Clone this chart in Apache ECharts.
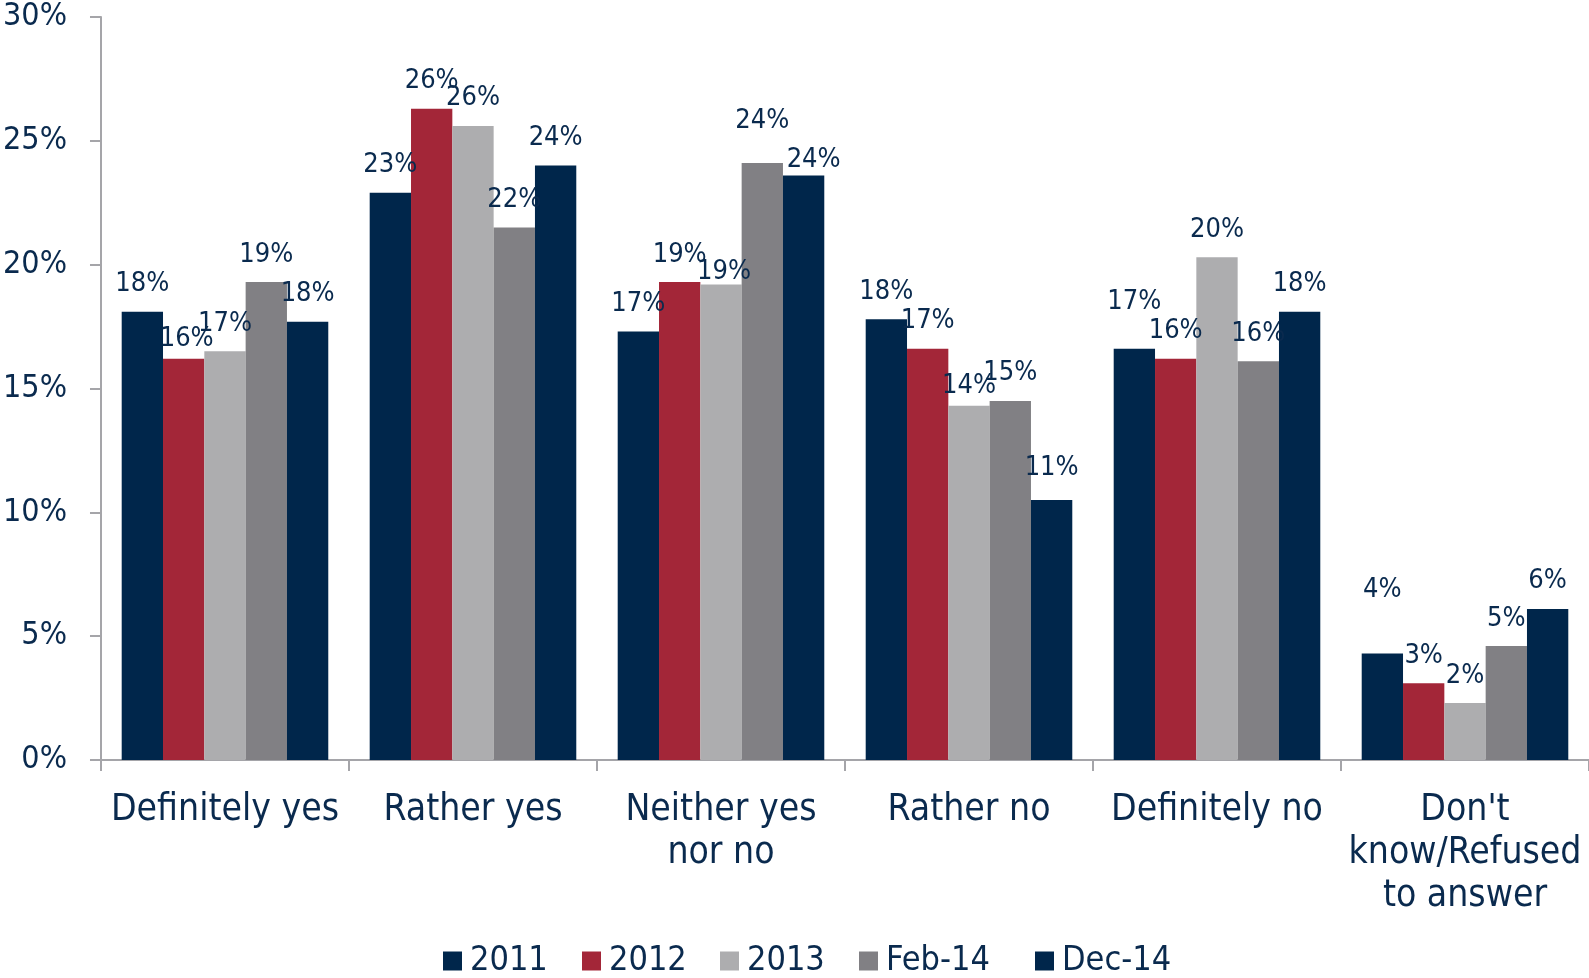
<!DOCTYPE html>
<html>
<head>
<meta charset="utf-8">
<script src="https://cdn.jsdelivr.net/npm/echarts@6/dist/echarts.min.js"></script>
<style>
html,body{margin:0;padding:0;background:#fff;}
#chart{width:1589px;height:978px;}
</style>
</head>
<body>
<div id="chart"></div>
<script>
const categories = ['Definitely yes', 'Rather yes', 'Neither yes\nnor no', 'Rather no', 'Definitely no', "Don't\nknow/Refused\nto answer"];
const seriesNames = ['2011', '2012', '2013', 'Feb-14', 'Dec-14'];
const v2011 = [18.1, 22.9, 17.3, 17.8, 16.6, 4.3];
const v2012 = [16.2, 26.3, 19.3, 16.6, 16.2, 3.1];
const v2013 = [16.5, 25.6, 19.2, 14.3, 20.3, 2.3];
const vFeb14 = [19.3, 21.5, 24.1, 14.5, 16.1, 4.6];
const vDec14 = [17.7, 24.0, 23.6, 10.5, 18.1, 6.1];
const yTicks = { min: 0, max: 30, interval: 5 };

// label placement nudges (style only): [seriesIndex, categoryIndex, dx, dy]
const labelNudges = [[1,0,3,8],[2,2,3,15],[3,2,0,-15],[4,2,10,12],[2,3,0,8],[0,4,0,-19],[0,5,0,-36],[4,3,0,-4]];
const legendLefts = [443, 582, 720, 859, 1035];

const colors = ['#00264B', '#A32638', '#ADADAF', '#818084', '#00264B'];
const textColor = '#0A2A4E';
const axisColor = '#A5A5A9';
const FONT = '"DejaVu Sans Condensed", "DejaVu Sans", sans-serif';

const values = [v2011, v2012, v2013, vFeb14, vDec14];

function buildData(si) {
  return values[si].map((v, ci) => {
    const n = labelNudges.find(a => a[0] === si && a[1] === ci);
    if (!n) return v;
    return { value: v, label: { offset: [n[2], n[3]] } };
  });
}

const chart = echarts.init(document.getElementById('chart'), null, { renderer: 'canvas' });
chart.setOption({
  animation: false,
  backgroundColor: '#ffffff',
  textStyle: { fontFamily: FONT },
  grid: { left: 100, right: 0, top: 17, bottom: 218, containLabel: false },
  legend: seriesNames.map((name, i) => ({
    data: [name],
    left: legendLefts[i],
    top: 944,
    icon: 'rect',
    itemWidth: 19,
    itemHeight: 19,
    itemGap: 0,
    padding: 0,
    textStyle: { fontFamily: FONT, fontSize: 34, color: textColor, padding: [0, 0, 0, 3] }
  })),
  xAxis: {
    type: 'category',
    data: categories,
    axisLine: { show: true, lineStyle: { color: axisColor, width: 2 } },
    axisTick: { show: true, length: 11, lineStyle: { color: axisColor, width: 2 } },
    axisLabel: {
      interval: 0,
      margin: 29,
      fontFamily: FONT,
      fontSize: 37,
      lineHeight: 43,
      color: textColor,
      align: 'center'
    },
    splitLine: { show: false }
  },
  yAxis: {
    type: 'value',
    min: yTicks.min,
    max: yTicks.max,
    interval: yTicks.interval,
    axisLine: { show: true, lineStyle: { color: axisColor, width: 2 } },
    axisTick: { show: true, length: 11, lineStyle: { color: axisColor, width: 2 } },
    axisLabel: {
      formatter: '{value}%',
      margin: 34,
      fontFamily: FONT,
      fontSize: 32,
      color: textColor
    },
    splitLine: { show: false }
  },
  series: seriesNames.map((name, i) => ({
    name: name,
    type: 'bar',
    data: buildData(i),
    barGap: '0%',
    barCategoryGap: '16.7%',
    itemStyle: { color: colors[i] },
    label: {
      show: true,
      position: 'top',
      distance: 14,
      fontFamily: FONT,
      fontSize: 27,
      color: textColor,
      formatter: p => Math.round(p.value) + '%'
    }
  }))
});
</script>
</body>
</html>
